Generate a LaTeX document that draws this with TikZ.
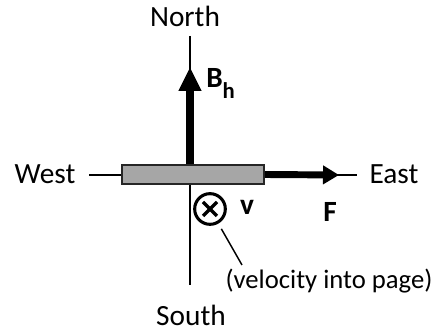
\documentclass[tikz,border=0pt]{standalone}
\usepackage{fontspec}
\setmainfont{Carlito}
\usetikzlibrary{arrows.meta}

\begin{document}
\begin{tikzpicture}[x=0.75pt,y=0.75pt,
  axis/.style={line width=1.1pt},
  force/.style={line width=5.6pt,-{Triangle[length=18pt,width=16pt]}},
  push/.style={line width=5.2pt,-{Triangle[length=12pt,width=13.5pt]}},
  bar/.style={draw=black!85,fill=black!35,line width=1.4pt,minimum width=106.5pt,minimum height=14.25pt,inner sep=0pt},
  lbl/.style={font=\fontsize{22}{26}\selectfont,inner sep=0pt},
  vec/.style={font=\bfseries\fontsize{22}{26}\selectfont,inner sep=0pt}]
\useasboundingbox (0,0) rectangle (444,332);
% compass axes
\coordinate (top) at (190,296);
\coordinate (bottom) at (190,47);
\coordinate (left) at (89,157);
\coordinate (right) at (357,157);
\draw[axis] (top) -- (bottom);
\draw[axis] (left) -- (right);
\node[lbl,anchor=base] (north) at (185,305) {North};
\node[lbl,anchor=base] (south) at (191,6) {South};
\node[lbl,anchor=base] (west) at (45,148) {West};
\node[lbl,anchor=base] (east) at (394,148) {East};
% the bar and the forces
\node[bar] (rod) at (193,157.5) {};
\coordinate (btip) at (190,265);
\coordinate (ftip) at (339,157);
\draw[force] (btip |- rod.north) -- (btip);
\draw[push] (rod.east) -- (ftip);
\node[vec,anchor=base west] (bh) at (206,244) {B\raisebox{-8pt}{\fontsize{17}{17}\selectfont h}};
\node[vec,anchor=base west] (f) at (323,110) {F};
% velocity into the page
\node[circle,draw,line width=2.3pt,minimum size=23pt,inner sep=0pt] (vel) at (210,123) {};
\draw[line width=2.5pt] (vel.center) +(-7,-7) -- +(7,7);
\draw[line width=2.5pt] (vel.center) +(-7,7) -- +(7,-7);
\node[vec,anchor=base] (v) at (247,117) {v};
\node[lbl,font=\fontsize{20}{24}\selectfont,anchor=base] (note) at (329,43) {(velocity into page)};
\coordinate (lead) at (242,67);
\draw[axis,shorten <=4.5pt] (vel) -- (lead);
\end{tikzpicture}
\end{document}
